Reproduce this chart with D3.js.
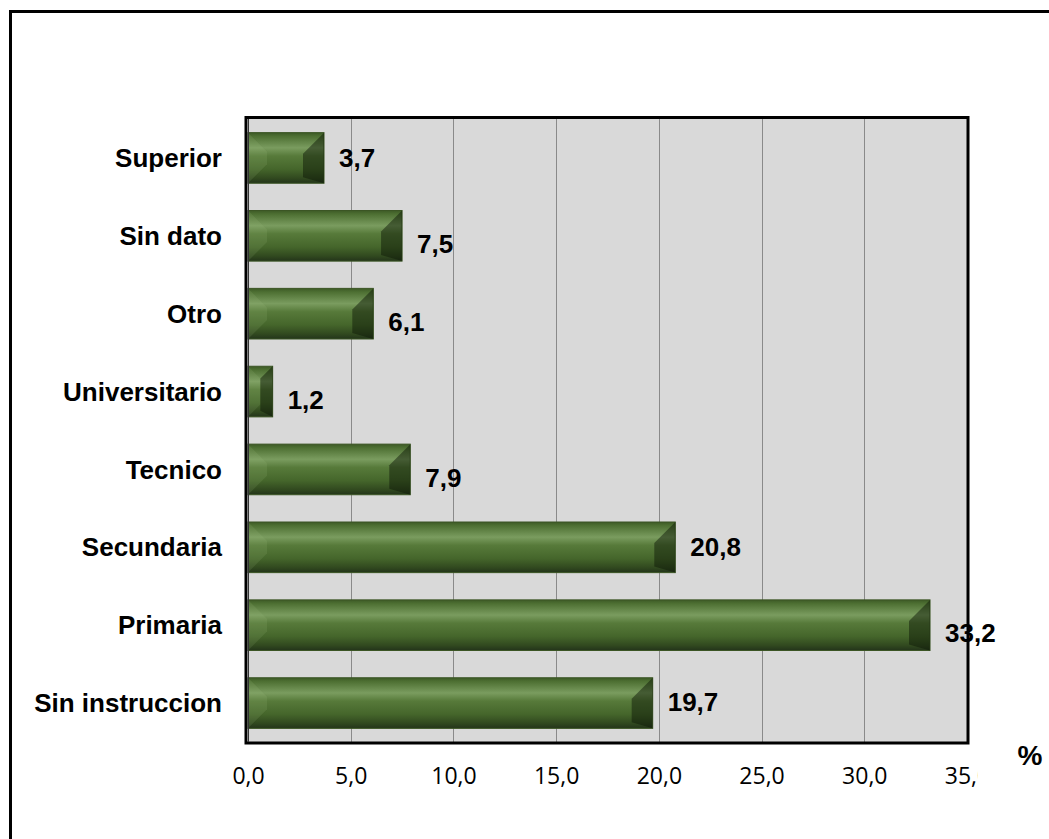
<!DOCTYPE html>
<html>
<head>
<meta charset="utf-8">
<script src="https://cdn.jsdelivr.net/npm/d3@7"></script>
<style>
  html, body { margin: 0; padding: 0; background: #fff; }
  svg { display: block; }
</style>
</head>
<body>
<svg id="chart" width="1049" height="839"></svg>
<script>
// Education level distribution (%)
const categories = ["Superior", "Sin dato", "Otro", "Universitario", "Tecnico", "Secundaria", "Primaria", "Sin instruccion"];
const values = [3.7, 7.5, 6.1, 1.2, 7.9, 20.8, 33.2, 19.7];
const tickValues = [0, 5, 10, 15, 20, 25, 30, 35];
const axisUnit = "%";

const locale = d3.formatLocale({ decimal: ",", thousands: ".", grouping: [3], currency: ["", ""] });
const fmt = locale.format(".1f");

// Vertical nudges for a few data labels that sit higher than the rest
const labelShift = { "Superior": -8, "Secundaria": -8, "Sin instruccion": -9 };

const svg = d3.select("#chart");
const defs = svg.append("defs");

// Outer chart frame (runs off the right and bottom edges)
svg.append("rect")
  .attr("x", 10.5).attr("y", 11.5)
  .attr("width", 1100).attr("height", 900)
  .attr("fill", "#fff").attr("stroke", "#000").attr("stroke-width", 3);

const plot = { left: 248, right: 967, top: 119, bottom: 742 };

const x = d3.scaleLinear().domain([0, 35]).range([plot.left, plot.right]);
const y = d3.scaleBand().domain(categories).range([plot.top, plot.bottom])
  .paddingInner(0.35).paddingOuter(0.175);

// Plot area background
svg.append("rect")
  .attr("x", plot.left).attr("y", plot.top)
  .attr("width", plot.right - plot.left).attr("height", plot.bottom - plot.top)
  .attr("fill", "#d9d9d9");

// Vertical gridlines
svg.append("g").selectAll("line")
  .data(tickValues.slice(1, -1))
  .join("line")
  .attr("x1", d => Math.round(x(d)) + 0.5).attr("x2", d => Math.round(x(d)) + 0.5)
  .attr("y1", plot.top).attr("y2", plot.bottom)
  .attr("stroke", "#8a8a8a").attr("stroke-width", 1);

// Bar gradient: cylindrical shading
const grad = defs.append("linearGradient").attr("id", "barGrad")
  .attr("x1", 0).attr("y1", 0).attr("x2", 0).attr("y2", 1);
[[0, "#3d5a26"], [0.07, "#4d6f32"], [0.3, "#7a9c5f"], [0.46, "#577a3a"],
 [0.72, "#45662b"], [0.9, "#31491f"], [1, "#23341a"]]
  .forEach(([o, c]) => grad.append("stop").attr("offset", o).attr("stop-color", c));

const data = categories.map((c, i) => ({ c, v: values[i] }));

const bars = svg.append("g").selectAll("g")
  .data(data)
  .join("g");

bars.append("rect")
  .attr("x", x(0)).attr("y", d => y(d.c))
  .attr("width", d => x(d.v) - x(0)).attr("height", y.bandwidth())
  .attr("fill", "url(#barGrad)")
  .attr("stroke", "#3b5524").attr("stroke-width", 1);

// Left bevel (lit)
bars.append("path")
  .attr("d", d => {
    const x0 = x(0), x1 = x(d.v), y0 = y(d.c), y1 = y0 + y.bandwidth();
    const b = Math.min(19, (x1 - x0) / 2);
    return `M${x0},${y0}L${x0 + b},${y0 + b}L${x0 + b},${y1 - b}L${x0},${y1}Z`;
  })
  .attr("fill", "#a9c98a").attr("opacity", 0.13);

// Right bevel (shaded)
bars.append("path")
  .attr("d", d => {
    const x0 = x(0), x1 = x(d.v), y0 = y(d.c), y1 = y0 + y.bandwidth();
    const b = Math.min(21, (x1 - x0) / 2);
    return `M${x1},${y0}L${x1 - b},${y0 + b}L${x1 - b},${y1 - 6}L${x1},${y1}Z`;
  })
  .attr("fill", "#0c1606").attr("opacity", 0.48);

// Value labels
svg.append("g").selectAll("text")
  .data(data)
  .join("text")
  .attr("x", d => x(d.v) + 15)
  .attr("y", d => y(d.c) + y.bandwidth() / 2 + 8 + (labelShift[d.c] || 0))
  .attr("dy", "0.35em")
  .attr("font-family", "'Liberation Sans', Arial, sans-serif")
  .attr("font-weight", "bold").attr("font-size", 26)
  .attr("fill", "#000")
  .text(d => fmt(d.v));

// Plot frame
svg.append("rect")
  .attr("x", plot.left - 2).attr("y", plot.top - 1.5)
  .attr("width", plot.right - plot.left + 3).attr("height", plot.bottom - plot.top + 2.5)
  .attr("fill", "none").attr("stroke", "#000").attr("stroke-width", 3);
svg.append("line")
  .attr("x1", plot.left + 0.5).attr("x2", plot.left + 0.5)
  .attr("y1", plot.top).attr("y2", plot.bottom)
  .attr("stroke", "#333").attr("stroke-width", 1);

// Category axis labels
svg.append("g").selectAll("text")
  .data(categories)
  .join("text")
  .attr("x", 222)
  .attr("y", d => y(d) + y.bandwidth() / 2)
  .attr("dy", "0.35em")
  .attr("text-anchor", "end")
  .attr("font-family", "'Liberation Sans', Arial, sans-serif")
  .attr("font-weight", "bold").attr("font-size", 26)
  .attr("fill", "#000")
  .text(d => d);

// Value axis
const xAxis = d3.axisBottom(x).tickValues(tickValues).tickFormat(fmt).tickSize(0).tickPadding(0);
const gx = svg.append("g").attr("transform", `translate(0,${plot.bottom + 26})`).call(xAxis);
gx.select(".domain").remove();
gx.selectAll("text")
  .attr("font-family", "'Open Sans', sans-serif")
  .attr("font-size", 23).attr("fill", "#000");

// Unit label box
svg.append("rect")
  .attr("x", 978).attr("y", 748).attr("width", 68).attr("height", 52)
  .attr("fill", "#fff");
svg.append("text")
  .attr("x", 1030).attr("y", 755).attr("dy", "0.35em")
  .attr("text-anchor", "middle")
  .attr("font-family", "'Liberation Sans', Arial, sans-serif")
  .attr("font-weight", "bold").attr("font-size", 28)
  .text(axisUnit);
</script>
</body>
</html>
